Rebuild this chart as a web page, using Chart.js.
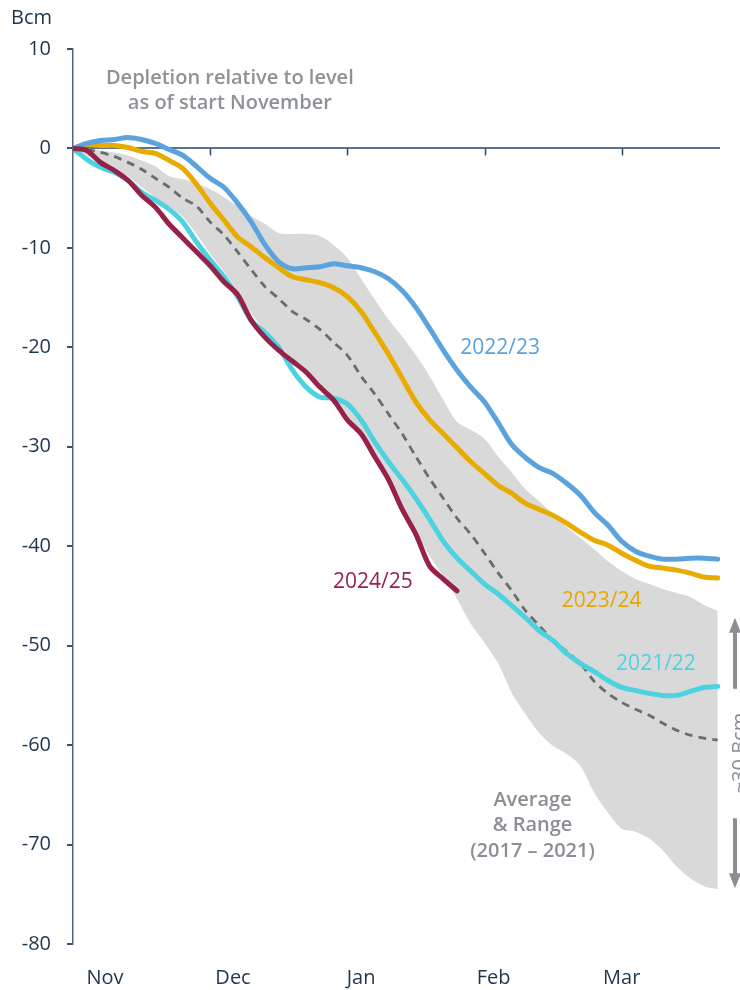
<!DOCTYPE html>
<html>
<head>
<meta charset="utf-8">
<script src="https://cdn.jsdelivr.net/npm/chart.js@4.4.1/dist/chart.umd.min.js"></script>
<style>
  html, body { margin: 0; padding: 0; background: #fff; }
  #wrap { width: 740px; height: 990px; position: relative; }
</style>
</head>
<body>
<div id="wrap"><canvas id="storage-chart"></canvas></div>
<script>
// days since 1 November (every 3 days)
var days = [0,3,6,9,12,15,18,21,24,27,30,33,36,39,42,45,48,51,54,57,60,63,66,69,72,75,78,81,84,87,90,93,96,99,102,105,108,111,114,117,120,123,126,129,132,135,138,141];

// average and range 2017 - 2021 (Bcm)
var avg = [0,-0.1,-0.4,-0.8,-1.4,-2.1,-3.0,-3.9,-5.0,-5.8,-7.4,-8.7,-10.4,-12.2,-13.9,-15.1,-16.4,-17.2,-18.2,-19.5,-20.8,-22.9,-24.7,-26.7,-28.7,-31.0,-33.2,-35.2,-37.2,-38.8,-40.7,-42.7,-44.5,-46.5,-48.0,-49.5,-50.6,-51.8,-53.6,-54.8,-55.7,-56.4,-57.0,-57.8,-58.5,-59.0,-59.3,-59.5];
var rangeMax = [0,0,-0.2,-0.4,-0.7,-1.2,-1.8,-2.8,-3.1,-3.5,-4.1,-4.9,-5.8,-6.8,-7.6,-8.5,-8.6,-8.6,-8.8,-9.7,-11.0,-13.1,-15.2,-17.2,-18.9,-20.8,-22.9,-25.3,-27.5,-28.3,-29.2,-31.0,-32.6,-34.3,-35.5,-36.8,-38.1,-39.2,-40.3,-41.5,-42.5,-43.3,-43.8,-44.3,-44.7,-45.1,-45.9,-46.5];
var rangeMin = [0,-0.7,-1.4,-2.0,-2.8,-3.9,-4.9,-5.8,-6.9,-8.6,-10.6,-12.4,-14.4,-16.6,-18.3,-19.7,-21.2,-22.5,-23.9,-25.3,-27.3,-29.0,-31.0,-33.3,-36.0,-38.5,-41.0,-43.0,-45.3,-47.8,-49.7,-51.8,-54.8,-56.9,-58.8,-60.1,-60.9,-62.1,-64.8,-66.8,-68.4,-68.7,-69.4,-70.6,-72.2,-73.4,-74.2,-74.5];

// winters
var w2122 = [0,-1.1,-1.9,-2.4,-3.2,-4.4,-5.2,-6.1,-7.4,-9.4,-11.2,-12.9,-14.9,-17.3,-18.5,-20.0,-22.3,-24.0,-25.0,-25.1,-25.7,-27.3,-29.5,-31.5,-33.3,-35.2,-37.3,-39.5,-41.2,-42.5,-43.8,-44.8,-46.0,-47.2,-48.5,-49.5,-50.8,-51.8,-52.6,-53.5,-54.2,-54.5,-54.8,-55.0,-55.0,-54.6,-54.2,-54.1];
var w2223 = [0,0.5,0.8,0.9,1.1,0.9,0.5,-0.1,-0.7,-1.8,-3.0,-3.9,-5.5,-7.4,-9.7,-11.4,-12.1,-12.0,-11.9,-11.6,-11.8,-12.0,-12.4,-13.1,-14.3,-16.0,-18.1,-20.3,-22.3,-24.0,-25.5,-27.6,-29.8,-31.1,-32.1,-32.7,-33.7,-34.9,-36.6,-37.9,-39.5,-40.5,-41.0,-41.3,-41.3,-41.2,-41.2,-41.3];
var w2324 = [0,0.4,0.3,0.3,0.1,-0.3,-0.5,-1.2,-2.0,-3.6,-5.5,-7.2,-8.9,-9.9,-11.0,-12.0,-12.9,-13.2,-13.5,-14.0,-14.9,-16.4,-18.5,-20.7,-23.1,-25.5,-27.3,-28.7,-30.1,-31.5,-32.7,-33.9,-34.7,-35.7,-36.3,-36.9,-37.7,-38.6,-39.4,-39.9,-40.7,-41.4,-42.0,-42.2,-42.4,-42.7,-43.1,-43.2];
var w2425 = [0,-0.2,-1.4,-2.2,-3.2,-4.7,-5.9,-7.6,-9.0,-10.4,-11.8,-13.4,-14.7,-17.3,-19.0,-20.3,-21.4,-22.5,-24.0,-25.3,-27.3,-28.7,-31.0,-33.3,-36.3,-38.8,-42.0,-43.3,-44.5];

var monthLabels = ['Nov', 'Dec', 'Jan', 'Feb', 'Mar'];
var monthLabelDays = [7, 35, 63, 92, 120];
var monthStartDays = [30, 60, 90, 120];

var FONT = '"Open Sans", "Noto Sans", sans-serif';
var NAVY = '#1e3550';

function pts(vals) {
  return vals.map(function (v, i) { return { x: days[i], y: v }; });
}

var notes = [
  { lines: ['Depletion relative to level', 'as of start November'], day: 34.3, val: 7.1, lh: 25, color: '#8e9297', font: '600 20px ' + FONT },
  { lines: ['Average', '& Range', '(2017 \u2013 2021)'], day: 100.5, val: -65.5, lh: 25.5, color: '#8b8f95', font: '600 20px ' + FONT },
  { lines: ['2022/23'], day: 93.4, val: -20.1, lh: 0, color: '#5ba3dc', font: '21px ' + FONT },
  { lines: ['2023/24'], day: 115.6, val: -45.5, lh: 0, color: '#e6a800', font: '21px ' + FONT },
  { lines: ['2021/22'], day: 127.5, val: -51.8, lh: 0, color: '#4dd2df', font: '21px ' + FONT },
  { lines: ['2024/25'], day: 65.6, val: -43.6, lh: 0, color: '#962249', font: '21px ' + FONT }
];

var extras = {
  id: 'extras',
  afterDraw: function (chart) {
    var c = chart.ctx, xs = chart.scales.x, ys = chart.scales.y;
    c.save();
    // month tick marks on the zero line
    var y0 = ys.getPixelForValue(0);
    c.strokeStyle = '#2d4560';
    c.lineWidth = 1.5;
    monthStartDays.forEach(function (d) {
      var x = Math.round(xs.getPixelForValue(d)) + 0.5;
      c.beginPath(); c.moveTo(x, y0); c.lineTo(x, y0 + 7); c.stroke();
    });
    // unit
    c.fillStyle = NAVY;
    c.font = '20px ' + FONT;
    c.textAlign = 'left';
    c.textBaseline = 'middle';
    c.fillText('Bcm', 11, 18);
    // text labels
    c.textAlign = 'center';
    notes.forEach(function (n) {
      c.font = n.font;
      c.fillStyle = n.color;
      var px = xs.getPixelForValue(n.day), py = ys.getPixelForValue(n.val);
      n.lines.forEach(function (t, i) { c.fillText(t, px, py + i * n.lh); });
    });
    // spread arrow on the right
    var ax = 735, top = ys.getPixelForValue(-47.2), bot = ys.getPixelForValue(-74.4);
    var grey = '#8a8e93';
    c.fillStyle = grey;
    c.strokeStyle = grey;
    c.lineWidth = 4;
    c.beginPath(); c.moveTo(ax, top + 14); c.lineTo(ax, top + 71); c.stroke();
    c.beginPath(); c.moveTo(ax, bot - 14); c.lineTo(ax, bot - 70); c.stroke();
    c.beginPath(); c.moveTo(ax, top); c.lineTo(ax - 6, top + 15); c.lineTo(ax + 6, top + 15); c.closePath(); c.fill();
    c.beginPath(); c.moveTo(ax, bot); c.lineTo(ax - 6, bot - 15); c.lineTo(ax + 6, bot - 15); c.closePath(); c.fill();
    c.translate(740, (top + bot) / 2);
    c.rotate(-Math.PI / 2);
    c.font = '20px ' + FONT;
    c.textAlign = 'center';
    c.textBaseline = 'middle';
    c.fillText('~30 Bcm', 0, 0);
    c.restore();
  }
};

var lineBase = { fill: false, pointRadius: 0, tension: 0.3, borderCapStyle: 'round', borderJoinStyle: 'round' };

var ctx = document.getElementById('storage-chart').getContext('2d');
var chart = new Chart(ctx, {
  type: 'line',
  data: {
    datasets: [
      Object.assign({ label: '2024/25', data: pts(w2425), borderColor: '#962249', borderWidth: 5 }, lineBase),
      Object.assign({ label: '2022/23', data: pts(w2223), borderColor: '#5ba3dc', borderWidth: 5 }, lineBase),
      Object.assign({ label: '2023/24', data: pts(w2324), borderColor: '#e8ab00', borderWidth: 5 }, lineBase),
      Object.assign({ label: '2021/22', data: pts(w2122), borderColor: '#4dd2df', borderWidth: 5 }, lineBase),
      Object.assign({ label: 'Average', data: pts(avg), borderColor: '#6b6c6e', borderWidth: 2.8, borderDash: [8, 6], borderCapStyle: 'butt' }, lineBase, { borderCapStyle: 'butt' }),
      { label: 'Max', data: pts(rangeMax), borderWidth: 0, pointRadius: 0, tension: 0.3, backgroundColor: '#d9d9d9', fill: '+1' },
      { label: 'Min', data: pts(rangeMin), borderWidth: 0, pointRadius: 0, tension: 0.3, fill: false }
    ]
  },
  options: {
    responsive: true,
    maintainAspectRatio: false,
    animation: false,
    layout: { padding: { left: 20, right: 20, top: 49, bottom: 0 } },
    plugins: { legend: { display: false }, tooltip: { enabled: false } },
    scales: {
      x: {
        type: 'linear',
        min: 0,
        max: 141.5,
        afterBuildTicks: function (scale) {
          scale.ticks = monthLabelDays.map(function (d) { return { value: d }; });
        },
        afterFit: function (scale) { scale.height = 46; },
        ticks: {
          padding: 22,
          color: NAVY,
          font: { family: FONT, size: 20 },
          maxRotation: 0,
          autoSkip: false,
          callback: function (v) { return monthLabels[monthLabelDays.indexOf(v)]; }
        },
        grid: { display: false, drawTicks: false },
        border: { display: false }
      },
      y: {
        min: -80,
        max: 10,
        afterFit: function (scale) { scale.width = 53; },
        ticks: {
          stepSize: 10,
          padding: 16,
          color: NAVY,
          font: { family: FONT, size: 20 }
        },
        grid: {
          color: function (c) { return c.tick && c.tick.value === 0 ? '#5c7288' : 'rgba(0,0,0,0)'; },
          lineWidth: 2,
          tickColor: '#3b5068',
          tickLength: 6
        },
        border: { display: true, color: '#50667c', width: 1.5 }
      }
    }
  },
  plugins: [extras]
});
</script>
</body>
</html>
